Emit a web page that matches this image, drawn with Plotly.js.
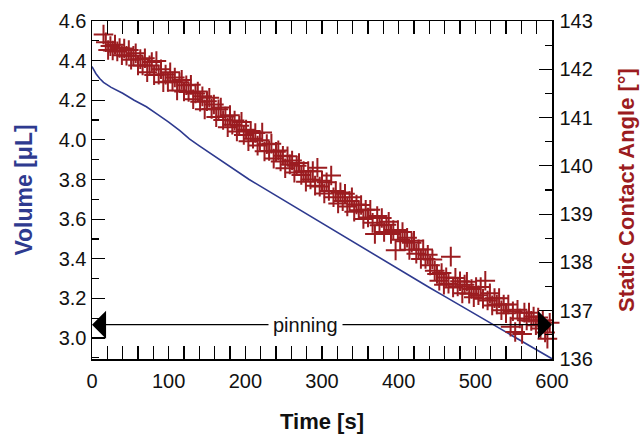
<!DOCTYPE html>
<html>
<head>
<meta charset="utf-8">
<script src="https://cdn.plot.ly/plotly-3.0.1.min.js"></script>
<style>html,body{margin:0;padding:0;background:#fff;}#chart{width:640px;height:434px;}</style>
</head>
<body>
<div id="chart"></div>
<script>
// Volume (blue line)
const volTime = [0,5,10,15,25,40,55,71,85,100,115,127,140,155,170,190,205,220,235,250,265,280,295,310,325,340,355,370,385,401,420,440,460,480,500,520,540,560,580,600];
const volume  = [4.37,4.335,4.31,4.29,4.265,4.235,4.20,4.167,4.13,4.09,4.045,4.005,3.97,3.93,3.89,3.84,3.80,3.765,3.73,3.695,3.66,3.625,3.59,3.555,3.52,3.485,3.45,3.415,3.38,3.344,3.30,3.255,3.21,3.165,3.12,3.075,3.03,2.985,2.94,2.895];

// Static contact angle (red crosses)
const angTime = [15,18,21,24,27,30,33,36,39,42,45,48,51,54,57,60,63,66,69,72,75,78,81,84,87,90,93,96,99,102,105,108,111,114,117,120,123,126,129,132,135,138,141,144,147,150,153,156,159,162,165,168,171,174,177,180,183,186,189,192,195,198,201,204,207,210,213,216,219,222,225,228,231,234,237,240,243,246,249,252,255,258,261,264,267,270,273,276,279,282,285,288,291,294,297,300,303,306,309,312,315,318,321,324,327,330,333,336,339,342,345,348,351,354,357,360,363,366,369,372,375,378,381,384,387,390,393,396,399,402,405,408,411,414,417,420,423,426,429,432,435,438,441,444,447,450,453,456,459,462,465,468,471,474,477,480,483,486,489,492,495,498,501,504,507,510,513,516,519,522,525,528,531,534,537,540,543,546,549,552,555,558,561,564,567,570,573,576,579,582,585,588,591,594,597];
const angle = [142.72,142.56,142.40,142.48,142.39,142.51,142.37,142.44,142.29,142.43,142.28,142.40,142.20,142.28,142.33,142.08,142.21,142.08,142.23,141.94,142.08,142.15,141.88,142.17,141.89,142.00,141.73,141.89,141.74,141.94,141.75,141.83,141.56,141.73,141.78,141.54,141.67,141.53,141.68,141.38,141.50,141.54,141.33,141.44,141.17,141.34,141.41,141.18,141.27,141.01,141.17,141.21,140.95,141.02,140.80,141.05,140.85,140.94,140.71,140.83,140.91,140.64,140.75,140.51,140.72,140.56,140.68,140.42,140.53,140.69,140.30,140.45,140.31,140.46,140.15,140.29,140.32,140.09,140.21,139.95,140.20,140.03,140.11,139.86,140.00,140.06,139.81,139.89,139.67,139.89,139.72,139.89,139.59,139.96,139.57,139.69,139.43,139.66,139.48,139.80,139.35,139.48,139.22,139.45,139.27,139.42,139.16,139.27,139.35,139.05,139.20,139.08,139.19,138.90,139.09,138.93,139.09,138.82,138.59,138.96,138.77,138.92,138.63,138.78,138.84,138.59,138.67,138.25,138.67,138.47,138.63,138.44,138.51,138.26,138.41,138.45,138.18,138.27,138.07,138.27,138.07,138.16,137.94,138.06,137.83,137.76,137.62,137.78,137.54,137.69,137.56,138.12,137.48,137.68,137.50,137.61,137.36,137.54,137.60,137.35,137.45,137.28,137.49,137.32,137.49,137.25,137.62,137.21,137.36,137.11,137.26,137.13,137.26,137.01,137.13,136.95,137.13,136.67,136.99,136.56,137.02,136.84,136.52,136.96,136.80,136.96,136.79,136.88,136.70,136.86,136.63,136.80,136.55,136.42,136.75];

// Pinning arrow
const pinLevel = 3.067;
const pinCenter = 279;
const pinLabel = 'pinning';

const blue = '#2e3a8f';
const red = '#9b1c20';

const traces = [
  {x: volTime, y: volume, type: 'scatter', mode: 'lines', line: {color: blue, width: 1.6}, yaxis: 'y', hoverinfo: 'skip'},
  {x: angTime, y: angle, type: 'scatter', mode: 'markers', yaxis: 'y2', cliponaxis: false,
   marker: {symbol: 'cross-thin', size: 14, color: red, line: {color: red, width: 2}}, hoverinfo: 'skip'}
];

const tickFont = {family: 'Liberation Sans, Arial, sans-serif', size: 20, color: '#111'};
const layout = {
  width: 640, height: 434,
  margin: {l: 92, r: 88, t: 21, b: 75},
  paper_bgcolor: '#fff', plot_bgcolor: '#fff',
  showlegend: false,
  font: {family: 'Liberation Sans, Arial, sans-serif', color: '#111'},
  xaxis: {
    range: [0, 600], tickmode: 'linear', tick0: 0, dtick: 100,
    ticks: 'inside', ticklen: 13, tickwidth: 1.2, tickcolor: '#000',
    showline: true, linecolor: '#000', linewidth: 1.5, mirror: 'allticks',
    showgrid: false, zeroline: false, tickfont: tickFont, ticklabelstandoff: 3,
    minor: {dtick: 20, ticks: 'inside', ticklen: 7, tickwidth: 1.2, tickcolor: '#000', showgrid: false},
    title: {text: '<b>Time [s]</b>', font: {size: 22, color: '#111'}}
  },
  yaxis: {
    range: [2.894, 4.6], tickmode: 'linear', tick0: 3.0, dtick: 0.2, tickformat: '.1f',
    ticks: 'inside', ticklen: 13, tickwidth: 1.2, tickcolor: '#000',
    showline: true, linecolor: '#000', linewidth: 1.5,
    showgrid: false, zeroline: false, tickfont: tickFont,
    minor: {dtick: 0.1, ticks: 'inside', ticklen: 7, tickwidth: 1.2, tickcolor: '#000', showgrid: false},
    title: {text: '<b>Volume [μL]</b>', font: {size: 23, color: blue}, standoff: 19}
  },
  yaxis2: {
    overlaying: 'y', side: 'right', anchor: 'x',
    range: [136, 143], tickmode: 'linear', tick0: 136, dtick: 1,
    ticks: 'inside', ticklen: 13, tickwidth: 1.2, tickcolor: '#000',
    showline: true, linecolor: '#000', linewidth: 1.5,
    showgrid: false, zeroline: false, tickfont: tickFont, ticklabelstandoff: 2,
    minor: {dtick: 0.5, ticks: 'inside', ticklen: 7, tickwidth: 1.2, tickcolor: '#000', showgrid: false},
    title: {text: '<b>Static Contact Angle [°]</b>', font: {size: 22, color: red}, standoff: 26}
  },
  annotations: [
    {x: 0, y: pinLevel, xref: 'x', yref: 'y', ax: pinCenter, ay: pinLevel, axref: 'x', ayref: 'y',
     text: '', showarrow: true, arrowhead: 1, arrowsize: 3.6, arrowwidth: 1.3, arrowcolor: '#000'},
    {x: 600, y: pinLevel, xref: 'x', yref: 'y', ax: pinCenter, ay: pinLevel, axref: 'x', ayref: 'y',
     text: '', showarrow: true, arrowhead: 1, arrowsize: 3.6, arrowwidth: 1.3, arrowcolor: '#000'},
    {x: pinCenter, y: pinLevel, xref: 'x', yref: 'y', text: pinLabel, showarrow: false,
     bgcolor: '#fff', borderpad: 4, font: {size: 20, color: '#111'}}
  ]
};

Plotly.newPlot('chart', traces, layout, {staticPlot: true, displayModeBar: false});
</script>
</body>
</html>
